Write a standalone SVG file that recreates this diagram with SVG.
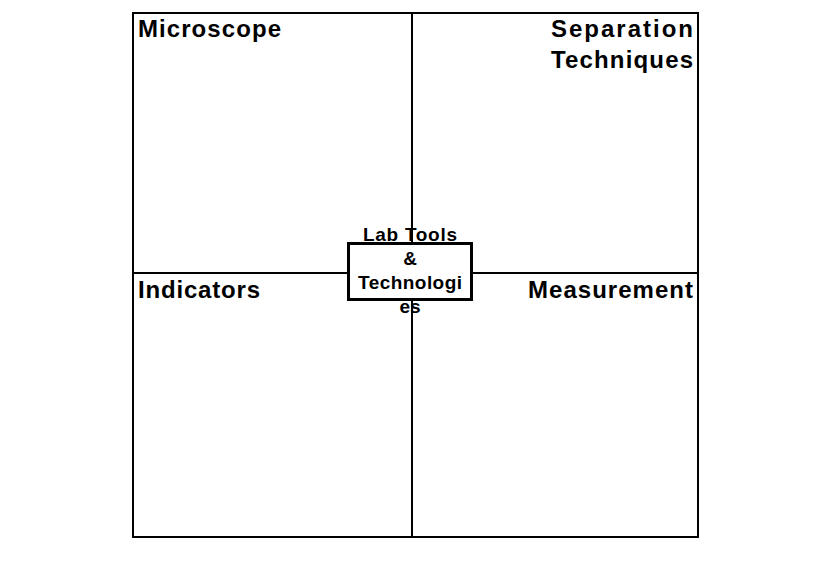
<svg xmlns="http://www.w3.org/2000/svg" width="821" height="576" viewBox="0 0 821 576">
<style>
.ln{stroke:#000;stroke-width:2;fill:none}
.lbl{font-family:"Liberation Sans",Arial,sans-serif;font-weight:bold;font-size:24px;fill:#000}
.ctr{font-family:"Liberation Sans",Arial,sans-serif;font-weight:bold;font-size:19px;fill:#000;text-anchor:middle}
</style>
<rect x="0" y="0" width="821" height="576" fill="#fff"/>
<g id="connectors">
<rect class="ln" x="133" y="13" width="565" height="524"/>
<line class="ln" x1="412" y1="13" x2="412" y2="537"/>
<line class="ln" x1="133" y1="273" x2="698" y2="273"/>
</g>
<g id="microscope"><text class="lbl" x="138" y="37" textLength="143">Microscope</text></g>
<g id="separation"><text class="lbl" x="551" y="37" textLength="142">Separation</text><text class="lbl" x="551" y="68" textLength="142">Techniques</text></g>
<g id="indicators"><text class="lbl" x="138" y="298" textLength="122">Indicators</text></g>
<g id="measurement"><text class="lbl" x="528" y="298" textLength="165">Measurement</text></g>
<g id="center">
<rect x="348.5" y="243.5" width="123" height="56" fill="#fff" stroke="#000" stroke-width="3"/>
<text class="ctr" x="410" y="241" textLength="94">Lab Tools</text>
<text class="ctr" x="410" y="265">&amp;</text>
<text class="ctr" x="410" y="289" textLength="104">Technologi</text>
<text class="ctr" x="410" y="313">es</text>
</g>
</svg>
